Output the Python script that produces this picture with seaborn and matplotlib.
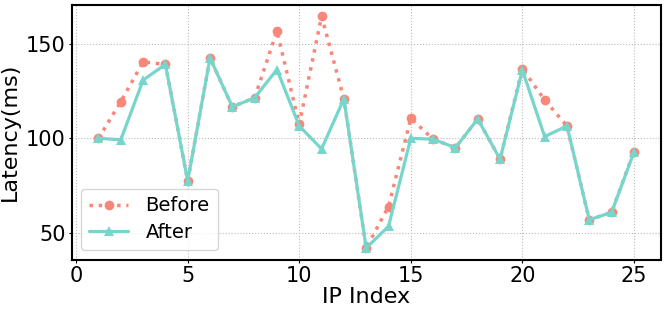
import pandas as pd
import numpy as np
import matplotlib
matplotlib.use("Agg")
import matplotlib.pyplot as plt
import seaborn as sns

# Latency per IP, before and after
ip_index = list(range(1, 26))
before = [100, 119.3, 140.3, 139, 77.5, 142.4, 116.6, 121.4, 156.6, 107.4,
          164.4, 120.8, 42.1, 64, 110.5, 99.5, 95, 110.2, 89, 136.8,
          120.2, 106.5, 57, 60.9, 93]
after = [100, 99.2, 130.7, 139, 77.5, 142.4, 116.6, 121.4, 136.3, 106.5,
         94.4, 120.8, 42.1, 53.5, 100, 99.5, 95, 110.2, 89, 136,
         100.9, 106.5, 57, 60.9, 92.6]

df = pd.DataFrame({"IP Index": ip_index, "Before": before, "After": after})

sns.set_style("whitegrid", {"grid.linestyle": ":", "grid.color": "#bbbbbb",
                            "axes.edgecolor": "black", "text.color": "black",
                            "axes.labelcolor": "black", "xtick.color": "black",
                            "ytick.color": "black"})
plt.rcParams['font.family'] = ['DejaVu Sans']

fig, ax = plt.subplots(figsize=(6.64, 3.12), dpi=100)

sns.lineplot(data=df, x="IP Index", y="Before", ax=ax, color="#F8877A",
             linestyle=":", linewidth=2.5, marker="o", markersize=7,
             markeredgewidth=0, label="Before")
sns.lineplot(data=df, x="IP Index", y="After", ax=ax, color="#76D6CB",
             linestyle="-", linewidth=2.3, marker="^", markersize=6.5,
             markeredgewidth=0, label="After")

ax.set_xlabel("IP Index", fontsize=16, labelpad=1)
ax.set_ylabel("Latency(ms)", fontsize=16)
ax.set_xticks([0, 5, 10, 15, 20, 25])
ax.set_yticks([50, 100, 150])
ax.tick_params(axis="both", labelsize=15, length=2.5, width=0.8, pad=2,
               direction="out", bottom=True, left=True)
for s in ax.spines.values():
    s.set_linewidth(1.5)
    s.set_color("black")

ax.legend(loc="lower left", fontsize=14, frameon=True, handlelength=2.0,
          handletextpad=0.9, borderpad=0.4, labelspacing=0.4)

plt.subplots_adjust(left=0.108, right=0.995, top=0.985, bottom=0.168)
plt.savefig("out.png", dpi=100)
